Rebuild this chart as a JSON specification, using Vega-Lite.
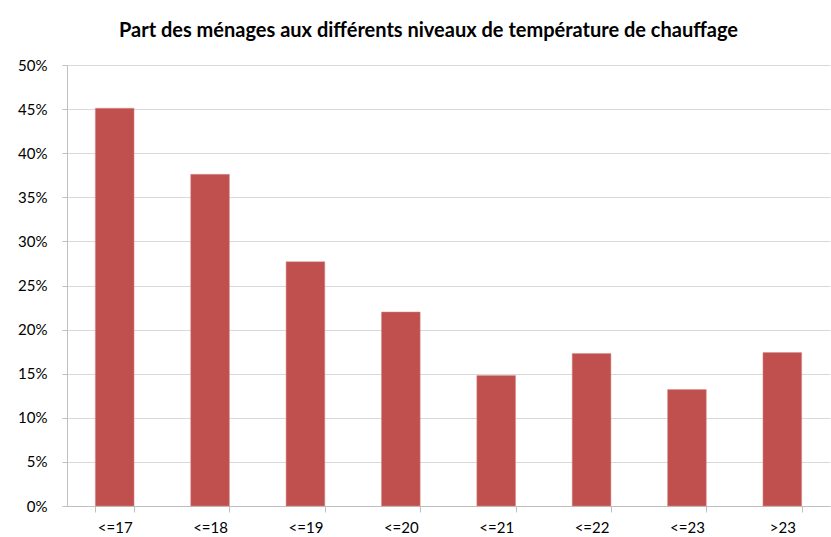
{
  "$schema": "https://vega.github.io/schema/vega-lite/v6.json",
  "autosize": "none",
  "width": 763,
  "height": 441,
  "padding": {"left": 67, "top": 65, "right": 1, "bottom": 31},
  "background": "white",
  "title": {
    "text": "Part des ménages aux différents niveaux de température de chauffage",
    "font": "Lato",
    "fontSize": 20,
    "fontWeight": "bold",
    "color": "#000000",
    "anchor": "middle",
    "frame": "group",
    "dx": -20,
    "offset": 17
  },
  "data": {
    "values": [
      {"cat": "<=17", "v": 0.451},
      {"cat": "<=18", "v": 0.376},
      {"cat": "<=19", "v": 0.277},
      {"cat": "<=20", "v": 0.220},
      {"cat": "<=21", "v": 0.148},
      {"cat": "<=22", "v": 0.173},
      {"cat": "<=23", "v": 0.132},
      {"cat": ">23", "v": 0.174}
    ]
  },
  "mark": {"type": "bar", "color": "#C0504D", "stroke": "#D9918F", "strokeWidth": 0.5},
  "encoding": {
    "x": {
      "field": "cat", "type": "nominal", "sort": null, "title": null,
      "scale": {"paddingInner": 0.594, "paddingOuter": 0.297},
      "axis": {
        "labelAngle": 0, "labelFont": "Lato", "labelFontSize": 15, "labelColor": "#000000",
        "labelPadding": 8, "tickBand": "extent", "tickSize": 6, "tickColor": "#BFBFBF",
        "domainColor": "#BFBFBF", "grid": false
      }
    },
    "y": {
      "field": "v", "type": "quantitative", "title": null,
      "scale": {"domain": [0, 0.5], "nice": false},
      "axis": {
        "format": ".0%", "values": [0, 0.05, 0.1, 0.15, 0.2, 0.25, 0.3, 0.35, 0.4, 0.45, 0.5],
        "labelFont": "Lato", "labelFontSize": 15, "labelColor": "#000000", "labelPadding": 15,
        "tickSize": 5, "tickColor": "#BFBFBF", "domainColor": "#BFBFBF",
        "grid": true, "gridColor": "#D9D9D9"
      }
    }
  },
  "config": {"view": {"stroke": null}}
}
